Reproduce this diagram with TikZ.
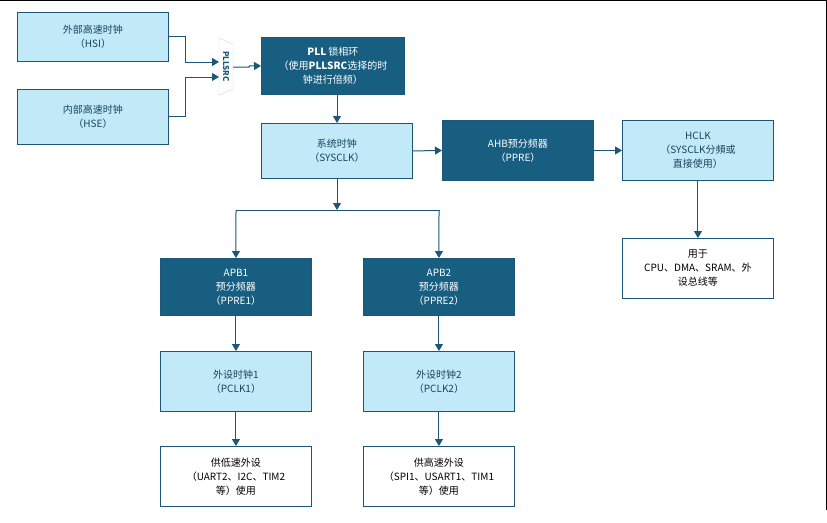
\documentclass[tikz,border=0pt]{standalone}
\usepackage{fontspec}
\setmainfont{Noto Sans CJK SC}
\usetikzlibrary{arrows.meta}
\definecolor{dk}{HTML}{175E80}
\definecolor{lt}{HTML}{C2E9F8}
\definecolor{ed}{HTML}{1D5676}
\begin{document}
\begin{tikzpicture}[x=1pt,y=-1pt,
 box/.style={draw=ed,line width=0.9pt,minimum width=151pt,align=center,font=\fontsize{10}{14}\selectfont,inner sep=1pt},
 lb/.style={box,fill=lt,text=ed!80!black},
 db/.style={box,fill=dk,text=white},
 wb/.style={box,fill=white,text=black},
 ar/.style={draw=ed,line width=1pt,-{Triangle[length=7pt,width=8pt]}},
 ln/.style={draw=ed,line width=1pt}]
\useasboundingbox (0,0) rectangle (827,522);
\draw[line width=1.2pt] (0,0.5)--(827,0.5);
\draw[line width=1pt] (826,0)--(826,510);
\node[lb,minimum height=49pt,anchor=north west] (hsi) at (17,12) {外部高速时钟\\（HSI）};
\node[lb,minimum height=55pt,anchor=north west] (hse) at (17,89) {内部高速时钟\\（HSE）};
\draw[draw=black!15,fill=white] (219,38)--(233,44)--(233,89)--(219,95)--cycle;
\node[rotate=-90,font=\bfseries\fontsize{8}{8}\selectfont,text=ed] (src) at (226,66.5) {PLLSRC};
\coordinate (srcin1) at (219,62);
\coordinate (srcin2) at (219,77);
\coordinate (srcout) at (233,67);
\node[db,minimum width=143pt,minimum height=57pt,anchor=north west] (pll) at (261,37) {\textbf{PLL} 锁相环\\（使用\textbf{PLLSRC}选择的时\\钟进行倍频）};
\node[lb,minimum height=55pt,anchor=north west] (sys) at (261,123) {系统时钟\\（SYSCLK）};
\node[db,minimum height=60pt,anchor=north west] (ahb) at (442,120) {AHB预分频器\\（PPRE）};
\node[lb,minimum height=60pt,anchor=north west] (hclk) at (622,120) {HCLK\\（SYSCLK分頻或\\直接使用）};
\node[wb,minimum height=60pt,anchor=north west] (use) at (622,238) {用于\\CPU、DMA、SRAM、外\\设总线等};
\node[db,minimum height=57pt,anchor=north west] (apb1) at (160,258) {APB1\\预分频器\\（PPRE1）};
\node[db,minimum height=57pt,anchor=north west] (apb2) at (363,258) {APB2\\预分频器\\（PPRE2）};
\node[lb,minimum height=60pt,anchor=north west] (p1) at (160,351) {外设时钟1\\（PCLK1）};
\node[lb,minimum height=60pt,anchor=north west] (p2) at (363,351) {外设时钟2\\（PCLK2）};
\node[wb,minimum height=60pt,anchor=north west] (l1) at (160,446) {供低速外设\\（UART2、I2C、TIM2\\等）使用};
\node[wb,minimum height=60pt,anchor=north west] (l2) at (363,446) {供高速外设\\（SPI1、USART1、TIM1\\等）使用};
\draw[ar] (hsi.east) -| (185,62) -- (srcin1);
\draw[ar] (hse.east) -| (185,77) -- (srcin2);
\draw[ar] (srcout) -- (249,67) -- (249,66) -- (pll.west);
\draw[ar] (pll.south -| 337,0) -- (sys.north -| 337,0);
\draw[ar] (sys.south -| 337,0) -- (337,210);
\draw[ln] (236,210) -- (440,210);
\draw[ar] (236,210) -- (apb1.north);
\draw[ar] (439,210) -- (apb2.north);
\draw[ar] (sys.east) -- (ahb.west);
\draw[ar] (ahb.east) -- (hclk.west);
\draw[ar] (hclk.south) -- (use.north);
\draw[ar] (apb1) -- (p1);
\draw[ar] (apb2) -- (p2);
\draw[ar] (p1) -- (l1);
\draw[ar] (p2) -- (l2);
\end{tikzpicture}
\end{document}
